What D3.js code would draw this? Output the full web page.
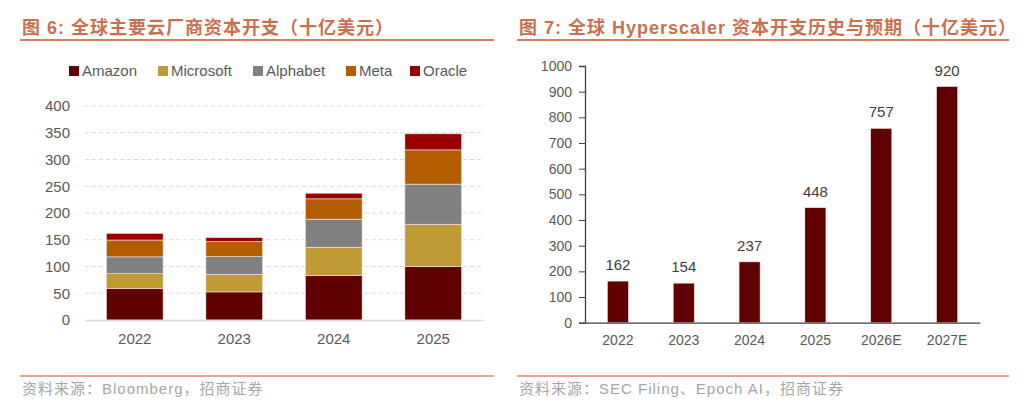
<!DOCTYPE html>
<html>
<head>
<meta charset="utf-8">
<script src="https://cdn.jsdelivr.net/npm/d3@7"></script>
<style>
  body { margin: 0; background: #fff; }
  svg { display: block; font-family: "Liberation Sans", Arial, sans-serif; }
</style>
</head>
<body>
<div id="chart"></div>
<script>
// Left chart: capex by company
const years = ["2022", "2023", "2024", "2025"];
const companies = ["Amazon", "Microsoft", "Alphabet", "Meta", "Oracle"];
const amazon    = [58.5, 52.5, 83, 100];
const microsoft = [28, 33, 53, 79];
const alphabet  = [31.5, 33, 52.5, 75];
const meta      = [31.5, 28, 38, 64];
const oracle    = [12.5, 7.5, 10.5, 30];
const leftTicks = [0, 50, 100, 150, 200, 250, 300, 350, 400];

// Right chart: hyperscaler total
const years2 = ["2022", "2023", "2024", "2025", "2026E", "2027E"];
const totals = [162, 154, 237, 448, 757, 920];
const rightTicks = [0, 100, 200, 300, 400, 500, 600, 700, 800, 900, 1000];

const width = 1024, height = 406;
const titleColor = "#C8714F";
const labelColor = "#595959";
const mixedFont = "'Liberation Sans', 'Noto Sans CJK SC', sans-serif";

const svg = d3.select("#chart").append("svg")
  .attr("width", width)
  .attr("height", height);

// titles, rules and sources
function frame(x0, x1, title, source) {
  svg.append("text")
    .attr("x", x0 + 2).attr("y", 34)
    .attr("fill", titleColor)
    .style("font-family", mixedFont)
    .style("font-weight", "bold")
    .style("font-size", "18px")
    .style("letter-spacing", "1px")
    .text(title);
  svg.append("line")
    .attr("x1", x0).attr("x2", x1).attr("y1", 40).attr("y2", 40)
    .attr("stroke", "#D07F5E").attr("stroke-width", 2);
  svg.append("line")
    .attr("x1", x0).attr("x2", x1).attr("y1", 376).attr("y2", 376)
    .attr("stroke", "#D8876A").attr("stroke-width", 1.5);
  svg.append("text")
    .attr("x", x0 + 2).attr("y", 394)
    .attr("fill", "#A6A6A6")
    .style("font-family", mixedFont)
    .style("font-size", "15px")
    .style("letter-spacing", "1px")
    .text(source);
}
frame(20, 494, "图 6:  全球主要云厂商资本开支（十亿美元）", "资料来源：Bloomberg，招商证券");
frame(517, 1009, "图 7:  全球 Hyperscaler 资本开支历史与预期（十亿美元）", "资料来源：SEC Filing、Epoch AI，招商证券");

// ---------- left stacked chart ----------
const color = d3.scaleOrdinal()
  .domain(companies)
  .range(["#600000", "#BF9A35", "#808080", "#B35C00", "#990000"]);

const rows = years.map((y, i) => ({
  year: y,
  Amazon: amazon[i], Microsoft: microsoft[i], Alphabet: alphabet[i],
  Meta: meta[i], Oracle: oracle[i]
}));
const stacked = d3.stack().keys(companies)(rows);

const x1 = d3.scaleBand().domain(years).range([85, 483]).paddingInner(0.43).paddingOuter(0.215);
const y1 = d3.scaleLinear().domain([0, 400]).range([320, 106]);

// gridlines
svg.append("g")
  .selectAll("line")
  .data(leftTicks.filter(d => d > 0))
  .join("line")
  .attr("x1", 85).attr("x2", 483)
  .attr("y1", d => y1(d)).attr("y2", d => y1(d))
  .attr("stroke", "#D9D9D9")
  .attr("stroke-dasharray", "4,3");

svg.append("g")
  .selectAll("g")
  .data(stacked)
  .join("g")
  .attr("fill", d => color(d.key))
  .selectAll("rect")
  .data(d => d)
  .join("rect")
  .attr("x", d => x1(d.data.year))
  .attr("width", x1.bandwidth())
  .attr("y", d => y1(d[1]))
  .attr("height", d => y1(d[0]) - y1(d[1]))
  .attr("stroke", "#f3e6e6")
  .attr("stroke-width", 0.6);

// y axis (labels only)
svg.append("g")
  .attr("transform", "translate(70,0)")
  .call(d3.axisLeft(y1).tickValues(leftTicks).tickSize(0).tickPadding(0))
  .call(g => g.select(".domain").remove())
  .call(g => g.selectAll("text")
    .attr("fill", labelColor)
    .style("font-size", "15px")
    .style("font-family", "'Liberation Sans', Arial, sans-serif"));

// x axis
svg.append("g")
  .attr("transform", "translate(0,320)")
  .call(d3.axisBottom(x1).tickSize(0).tickPadding(13))
  .call(g => g.select(".domain").attr("stroke", "#D9D9D9").attr("stroke-width", 1.5))
  .call(g => g.selectAll("text")
    .attr("fill", labelColor)
    .style("font-size", "15px")
    .style("font-family", "'Liberation Sans', Arial, sans-serif"));

// legend
const legendX = [69, 158, 253, 346, 410];
const legend = svg.append("g");
legend.selectAll("rect")
  .data(companies)
  .join("rect")
  .attr("x", (d, i) => legendX[i]).attr("y", 66)
  .attr("width", 10).attr("height", 10)
  .attr("fill", d => color(d));
legend.selectAll("text")
  .data(companies)
  .join("text")
  .attr("x", (d, i) => legendX[i] + 13).attr("y", 76)
  .attr("fill", labelColor)
  .style("font-size", "15px")
  .text(d => d);

// ---------- right bar chart ----------
const x2 = d3.scaleBand().domain(years2).range([585, 980]).paddingInner(0.68).paddingOuter(0.34);
const y2 = d3.scaleLinear().domain([0, 1000]).range([322.7, 66]);

svg.append("g")
  .selectAll("rect")
  .data(totals)
  .join("rect")
  .attr("x", (d, i) => x2(years2[i]))
  .attr("width", x2.bandwidth())
  .attr("y", d => y2(d))
  .attr("height", d => y2(0) - y2(d))
  .attr("fill", "#600000")
  .attr("stroke", "#f0e0e0")
  .attr("stroke-width", 0.6);

svg.append("g")
  .selectAll("text")
  .data(totals)
  .join("text")
  .attr("x", (d, i) => x2(years2[i]) + x2.bandwidth() / 2)
  .attr("y", d => y2(d) - 11)
  .attr("text-anchor", "middle")
  .attr("fill", "#404040")
  .style("font-size", "15px")
  .text(d => d);

svg.append("g")
  .attr("transform", "translate(585,0)")
  .call(d3.axisLeft(y2).tickValues(rightTicks).tickFormat(d3.format("d")).tickSize(6).tickPadding(7))
  .call(g => g.select(".domain").attr("stroke", "#404040").attr("stroke-width", 1.3))
  .call(g => g.selectAll(".tick line").attr("stroke", "#404040"))
  .call(g => g.selectAll("text")
    .attr("fill", labelColor)
    .style("font-size", "14px")
    .style("font-family", "'Liberation Sans', Arial, sans-serif"));

svg.append("g")
  .attr("transform", "translate(0,322.7)")
  .call(d3.axisBottom(x2).tickSize(0).tickPadding(12))
  .call(g => g.select(".domain").attr("stroke", "#404040").attr("stroke-width", 1.3))
  .call(g => g.selectAll("text")
    .attr("fill", labelColor)
    .style("font-size", "14px")
    .style("font-family", "'Liberation Sans', Arial, sans-serif"));
</script>
</body>
</html>
